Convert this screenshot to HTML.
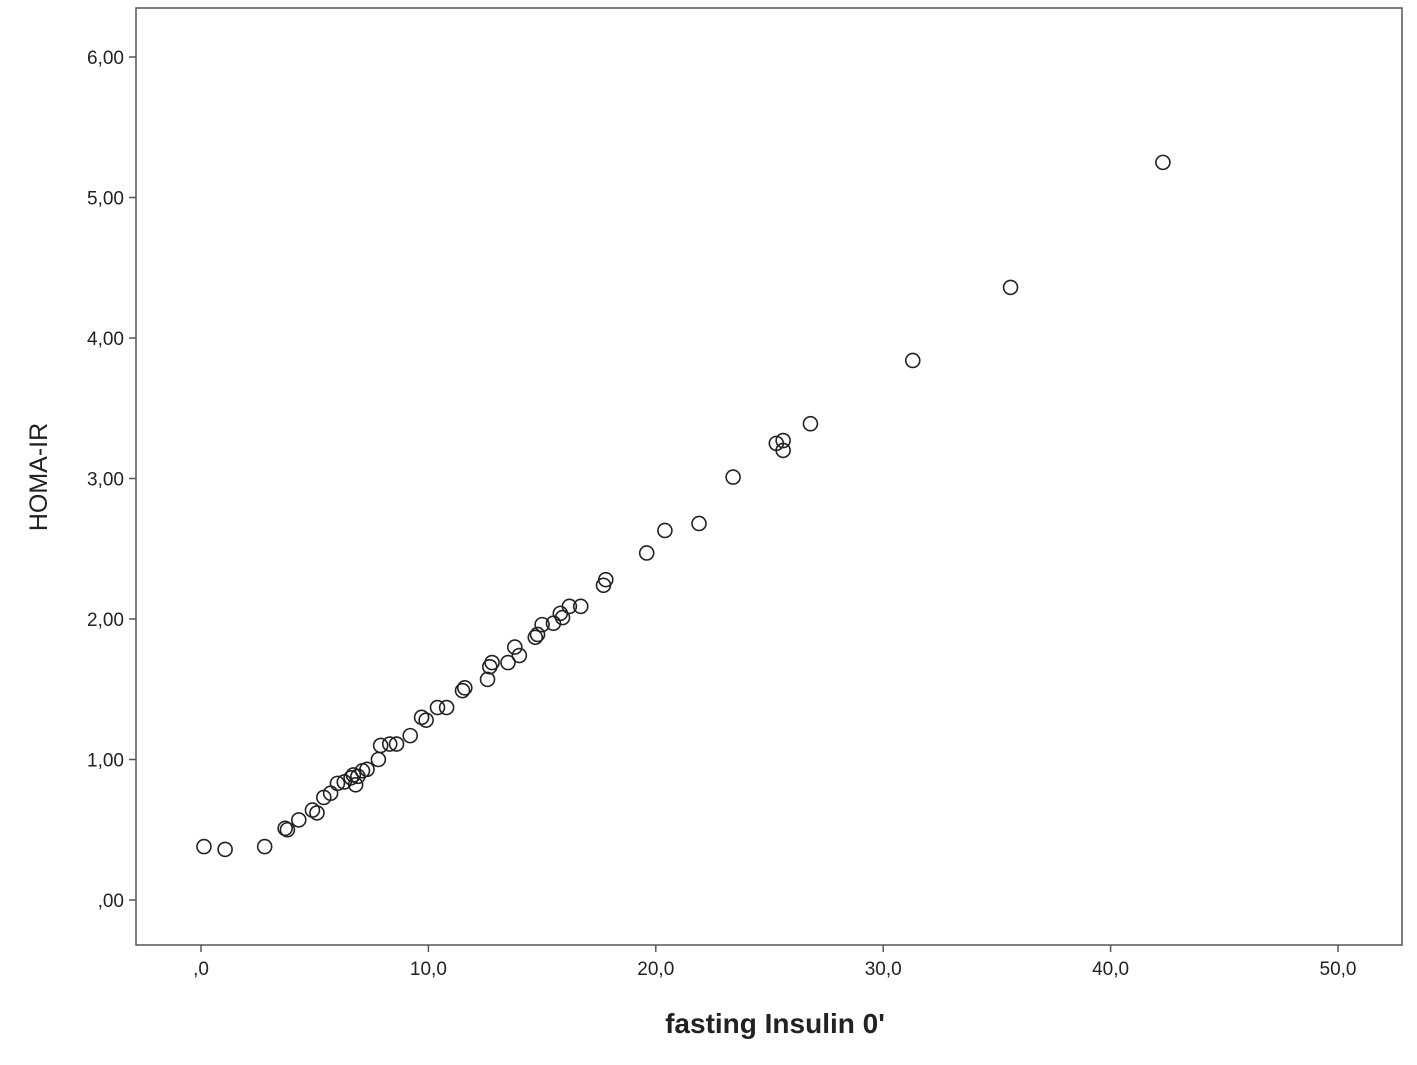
<!DOCTYPE html>
<html><head><meta charset="utf-8"><style>
body{margin:0;background:#fff;}
svg text{font-family:"Liberation Sans",Arial,sans-serif;}
</style></head><body>
<svg id="chart" width="1417" height="1060" xmlns="http://www.w3.org/2000/svg">
<rect x="0" y="0" width="1417" height="1060" fill="#fff"/>
<rect x="136" y="8" width="1266" height="937" fill="none" stroke="#555" stroke-width="1.5"/>
<g id="xaxis"></g>
<g id="yaxis"></g>
<g id="points"></g>
<text x="775" y="1033" text-anchor="middle" font-size="28" font-weight="bold" fill="#222">fasting Insulin 0'</text>
<text transform="translate(47,477) rotate(-90)" text-anchor="middle" font-size="25" fill="#222">HOMA-IR</text>
</svg>
<script>
const xVals=[0.13,1.06,2.8,3.7,3.8,4.3,4.9,5.1,5.4,5.7,6.0,6.3,6.6,6.7,6.8,6.9,7.1,7.3,7.8,7.9,8.3,8.6,9.2,9.7,9.9,10.4,10.8,11.5,11.6,12.6,12.7,12.8,13.5,13.8,14.0,14.7,14.8,15.0,15.5,15.8,15.9,16.2,16.7,17.7,17.8,19.6,20.4,21.9,23.4,25.3,25.6,25.6,26.8,31.3,35.6,42.3];
const yVals=[0.38,0.36,0.38,0.51,0.50,0.57,0.64,0.62,0.73,0.76,0.83,0.84,0.87,0.89,0.82,0.88,0.92,0.93,1.00,1.10,1.11,1.11,1.17,1.30,1.28,1.37,1.37,1.49,1.51,1.57,1.66,1.69,1.69,1.80,1.74,1.87,1.89,1.96,1.97,2.04,2.01,2.09,2.09,2.24,2.28,2.47,2.63,2.68,3.01,3.25,3.27,3.20,3.39,3.84,4.36,5.25];
const xTicks=[0,10,20,30,40,50];
const xTickLabels=[",0","10,0","20,0","30,0","40,0","50,0"];
const yTicks=[0,1,2,3,4,5,6];
const yTickLabels=[",00","1,00","2,00","3,00","4,00","5,00","6,00"];
const NS="http://www.w3.org/2000/svg";
function sx(v){return 201+v*22.74;}
function sy(v){return 900-v*140.5;}
function mk(t,a,p){const e=document.createElementNS(NS,t);for(const k in a)e.setAttribute(k,a[k]);p.appendChild(e);return e;}
const xa=document.getElementById('xaxis'),ya=document.getElementById('yaxis'),pg=document.getElementById('points');
xTicks.forEach((t,i)=>{
 const l=mk('line',{x1:sx(t),x2:sx(t),y1:945,y2:952,stroke:'#555','stroke-width':1.5},xa);
 
 
 const tx=mk('text',{x:sx(t),y:975,'text-anchor':'middle','font-size':19,fill:'#222'},xa);
 tx.textContent=xTickLabels[i];
 
 
});
yTicks.forEach((t,i)=>{
 const l=mk('line',{x1:129,x2:136,y1:sy(t),y2:sy(t),stroke:'#555','stroke-width':1.5},ya);
 
 
 const tx=mk('text',{x:124,y:sy(t)+7,'text-anchor':'end','font-size':19,fill:'#222'},ya);
 tx.textContent=yTickLabels[i];
 
 
});
xVals.forEach((x,i)=>{
 const c=mk('circle',{cx:sx(x),cy:sy(yVals[i]),r:7,fill:'none',stroke:'#222','stroke-width':1.6},pg);
 
 
});
</script>
</body></html>
